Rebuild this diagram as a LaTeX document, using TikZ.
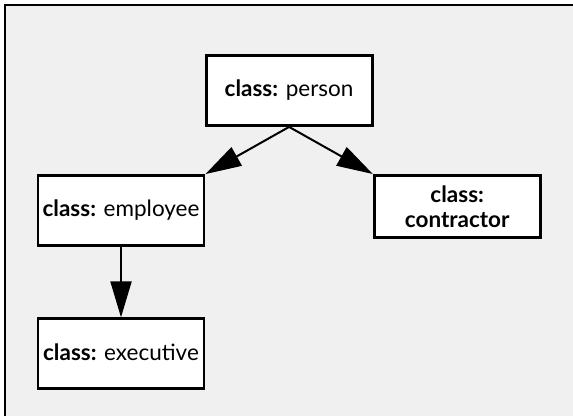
\documentclass[tikz,border=0pt]{standalone}
\usepackage{fontspec}
\setmainfont{Lato}
\usetikzlibrary{arrows.meta,positioning}

\definecolor{panelgray}{HTML}{F0F0F0}

\tikzset{
  classbox/.style={draw=black,line width=2.8pt,fill=white,minimum width=166pt,align=center,inner sep=1pt,font=\fontsize{22.5}{25}\selectfont},
  inherit/.style={line width=2pt,-{Triangle[length=36pt,width=21pt]}}
}

\begin{document}
\begin{tikzpicture}[x=1pt,y=-1pt]
\useasboundingbox (0,0) rectangle (573,416);
\fill[panelgray] (5,5) rectangle (573,416);
\draw[line width=2pt] (5,416) -- (5,5) -- (573,5);

\node[classbox,minimum height=70pt] (person) at (289.1,90.5) {\textbf{class:} person};
\node[classbox,minimum height=70pt] (employee) at (121,210.5) {\textbf{class:} employee};
\node[classbox,minimum height=62pt] (contractor) at (457.2,206.4) {\textbf{class:}\\\textbf{contractor}};
\node[classbox,minimum height=70pt] (executive) at (121,353.8) {\raisebox{4pt}{\textbf{class:} executive}};

\draw[inherit] (person.south) -- (employee.north east);
\draw[inherit] (person.south) -- (contractor.north west);
\draw[inherit] (employee.south) -- (executive.north);
\end{tikzpicture}
\end{document}
